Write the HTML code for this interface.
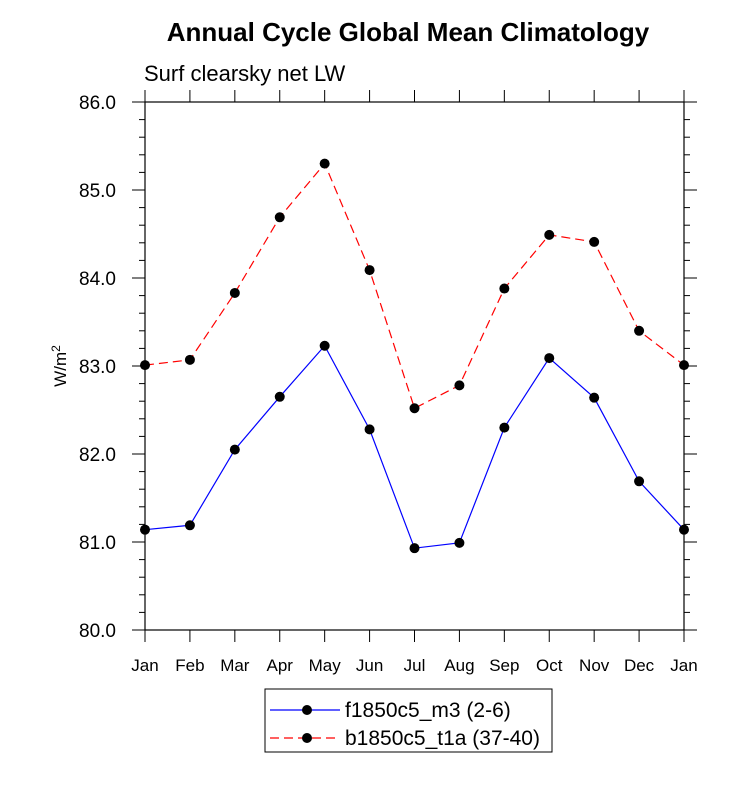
<!DOCTYPE html>
<html><head><meta charset="utf-8"><style>
body{margin:0;background:#fff;}
svg text{font-family:"Liberation Sans",sans-serif;}
</style></head><body>
<svg id="chart" width="733" height="782">
<text x="408" y="41" font-size="26" font-weight="bold" text-anchor="middle">Annual Cycle Global Mean Climatology</text>
<text x="144" y="81" font-size="22">Surf clearsky net LW</text>
<text transform="translate(66,366) rotate(-90)" font-size="17" text-anchor="middle">W/m<tspan dy="-6" font-size="12">2</tspan></text>
<g id="axes"></g>
<g id="series"></g>
<g id="legend">
<rect x="265" y="689" width="287" height="63" fill="#fff" stroke="#000" stroke-width="1"/>
<g>
<line x1="270" y1="710" x2="340" y2="710" stroke="#00f" stroke-width="1.2"/>
<circle cx="307" cy="710" r="5" fill="#000"/>
<text x="345" y="717" font-size="21">f1850c5_m3 (2-6)</text></g>
<g>
<line x1="270" y1="738" x2="340" y2="738" stroke="#f00" stroke-width="1.2" stroke-dasharray="9,5"/>
<circle cx="307" cy="738" r="5" fill="#000"/>
<text x="345" y="745" font-size="21">b1850c5_t1a (37-40)</text></g>
</g>
</svg>
<script>
const months=["Jan","Feb","Mar","Apr","May","Jun","Jul","Aug","Sep","Oct","Nov","Dec","Jan"];
const yTicks=[80.0,81.0,82.0,83.0,84.0,85.0,86.0];
const f1850c5=[81.14,81.19,82.05,82.65,83.23,82.28,80.93,80.99,82.30,83.09,82.64,81.69,81.14];
const b1850c5=[83.01,83.07,83.83,84.69,85.30,84.09,82.52,82.78,83.88,84.49,84.41,83.40,83.01];
const L=145,R=684,T=102,B=630,yMin=80,yMax=86;
const NS="http://www.w3.org/2000/svg";
function xs(i){return L+(R-L)*i/(months.length-1);}
function ys(v){return B-(v-yMin)/(yMax-yMin)*(B-T);}
function mk(tag,attrs,parent){const e=document.createElementNS(NS,tag);for(const k in attrs)e.setAttribute(k,attrs[k]);parent.appendChild(e);return e;}
const ax=document.getElementById('axes');
const frame=mk('rect',{x:L,y:T,width:R-L,height:B-T,fill:'none',stroke:'#000','stroke-width':1.2},ax);


months.forEach((m,i)=>{const x=xs(i);
mk('line',{x1:x,y1:B,x2:x,y2:B+12,stroke:'#000'},ax);
mk('line',{x1:x,y1:T,x2:x,y2:T-12,stroke:'#000'},ax);
const t=mk('text',{x:x,y:B+41,'font-size':17,'text-anchor':'middle'},ax);t.textContent=m;

});
for(let v=yMin;v<=yMax+1e-9;v+=0.2){const y=ys(v);const major=Math.abs(v-Math.round(v))<1e-6;const len=major?13:6;
mk('line',{x1:L,y1:y,x2:L-len,y2:y,stroke:'#000'},ax);
mk('line',{x1:R,y1:y,x2:R+len,y2:y,stroke:'#000'},ax);}
yTicks.forEach(v=>{const t=mk('text',{x:L-29,y:ys(v)+7,'font-size':19,'text-anchor':'end'},ax);t.textContent=v.toFixed(1);

});
const sg=document.getElementById('series');
function draw(vals,color,dash,name){const g=mk('g',{},sg);


mk('polyline',{points:vals.map((v,i)=>xs(i)+','+ys(v)).join(' '),fill:'none',stroke:color,'stroke-width':1.2,'stroke-dasharray':dash},g);
vals.forEach((v,i)=>{const c=mk('circle',{cx:xs(i),cy:ys(v),r:5,fill:'#000'},g);

});}
draw(b1850c5,'#f00','9,5','series-b1850c5');
draw(f1850c5,'#00f','none','series-f1850c5');
</script>
</body></html>
